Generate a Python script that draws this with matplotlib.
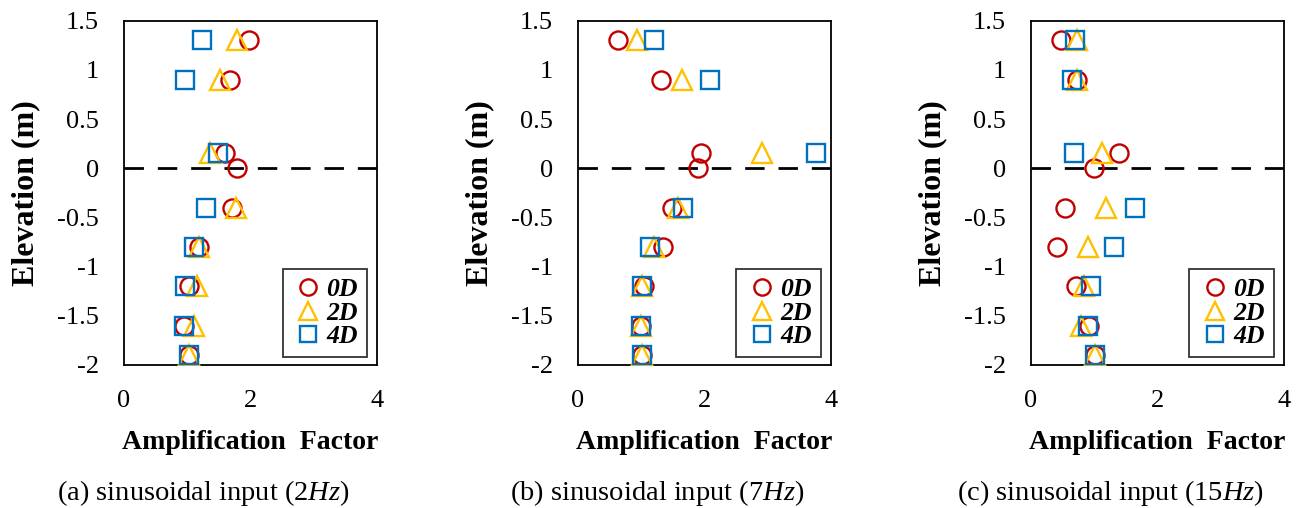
import numpy as np
import matplotlib
matplotlib.use("Agg")
import matplotlib.pyplot as plt

plt.rcParams['font.family'] = ['Liberation Serif', 'DejaVu Serif']
plt.rcParams['mathtext.fontset'] = 'custom'
plt.rcParams['mathtext.rm'] = 'Liberation Serif'
plt.rcParams['mathtext.it'] = 'Liberation Serif:italic'

# elevations (m)
elev_0d = [1.3, 0.9, 0.15, 0.0, -0.4, -0.8, -1.2, -1.6, -1.9]
elev_2d4d = [1.3, 0.9, 0.15, -0.4, -0.8, -1.2, -1.6, -1.9]

# amplification factors, one list per panel and series
amp_2hz_0d = [1.98, 1.68, 1.60, 1.79, 1.70, 1.18, 1.02, 0.95, 1.03]
amp_2hz_2d = [1.78, 1.52, 1.36, 1.77, 1.19, 1.16, 1.10, 1.02]
amp_2hz_4d = [1.23, 0.97, 1.48, 1.30, 1.11, 0.97, 0.94, 1.03]

amp_7hz_0d = [0.63, 1.31, 1.95, 1.90, 1.49, 1.35, 1.05, 1.00, 1.02]
amp_7hz_2d = [0.93, 1.65, 2.92, 1.59, 1.21, 1.02, 1.00, 1.02]
amp_7hz_4d = [1.21, 2.09, 3.77, 1.66, 1.15, 1.01, 1.00, 1.02]

amp_15hz_0d = [0.48, 0.74, 1.39, 1.00, 0.55, 0.41, 0.71, 0.92, 1.02]
amp_15hz_2d = [0.74, 0.73, 1.13, 1.19, 0.91, 0.85, 0.80, 1.02]
amp_15hz_4d = [0.70, 0.66, 0.68, 1.65, 1.32, 0.96, 0.90, 1.02]

captions = ["(a) sinusoidal input (2$\\it{Hz}$)",
            "(b) sinusoidal input (7$\\it{Hz}$)",
            "(c) sinusoidal input (15$\\it{Hz}$)"]
series_labels = ["0D", "2D", "4D"]

panels = [
    (amp_2hz_0d, amp_2hz_2d, amp_2hz_4d),
    (amp_7hz_0d, amp_7hz_2d, amp_7hz_4d),
    (amp_15hz_0d, amp_15hz_2d, amp_15hz_4d),
]

colors = ["#C00000", "#FFC000", "#0070C0"]
markers = ["o", "^", "s"]
msizes = [13, 14, 12.5]

fig = plt.figure(figsize=(13.03, 5.08), dpi=100)
lefts = [0.0952, 0.4434, 0.791]
W, B, H = 0.1942, 0.2815, 0.6778

for i, (a0, a2, a4) in enumerate(panels):
    ax = fig.add_axes([lefts[i], B, W, H])
    ax.axhline(0, color="black", lw=2, ls=(0, (7, 5)), zorder=1)
    for amp, el, c, m, ms, lab in zip([a0, a2, a4], [elev_0d, elev_2d4d, elev_2d4d],
                                      colors, markers, msizes, series_labels):
        ax.plot(amp, el, ls="none", marker=m, ms=ms,
                mfc="none", mec=c, mew=1.7, label=lab, zorder=3)
    ax.set_xlim(0, 4)
    ax.set_ylim(-2, 1.5)
    ax.set_xticks([0, 2, 4])
    ax.set_yticks(np.arange(-2, 1.51, 0.5))
    ax.set_yticklabels(["-2", "-1.5", "-1", "-0.5", "0", "0.5", "1", "1.5"])
    ax.tick_params(length=0, labelsize=19, pad=18)
    for s in ax.spines.values():
        s.set_linewidth(1.3)
    ax.set_xlabel("Amplification  Factor", fontsize=20, fontweight="bold", labelpad=13)
    ax.set_ylabel("Elevation (m)", fontsize=23, fontweight="bold", labelpad=12)
    leg = ax.legend(loc="lower right", bbox_to_anchor=(0.96, 0.023), frameon=True,
                    fancybox=False, edgecolor="black", handletextpad=0.05,
                    handlelength=1.3, borderpad=0.35, labelspacing=0.02,
                    borderaxespad=0.0, markerscale=0.9,
                    prop={"family": "Liberation Serif", "weight": "bold",
                          "style": "italic", "size": 18.5})
    leg.get_frame().set_linewidth(1.3)
    fig.text(lefts[i] + W / 2 - 0.036, 0.03, captions[i], fontsize=20.5,
             ha="center", va="center")

fig.savefig("out.png", dpi=100)
